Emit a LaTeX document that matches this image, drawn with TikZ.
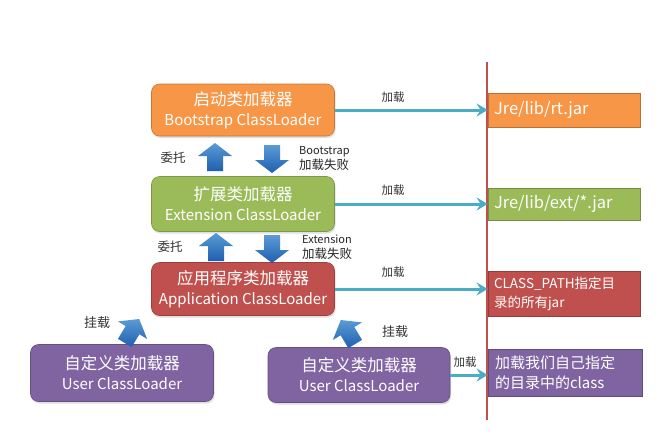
\documentclass[tikz,border=0pt]{standalone}
\usepackage{fontspec}
\setmainfont{Noto Sans CJK SC}
\usetikzlibrary{arrows.meta,shadows}
\definecolor{cOrange}{HTML}{F79646}
\definecolor{cGreen}{HTML}{9BBB59}
\definecolor{cRed}{HTML}{C0504D}
\definecolor{cPurple}{HTML}{8064A2}
\definecolor{cTeal}{HTML}{4BACC6}
\definecolor{cBlueT}{HTML}{5B9BD5}
\definecolor{cBlueB}{HTML}{1F5FAF}
\begin{document}
\begin{tikzpicture}[x=1pt,y=-1pt,
  loader/.style={rounded corners=8pt,draw=#1!80!black,line width=0.6pt,fill=#1,text=white,
    align=center,inner sep=0pt,font=\fontsize{15}{20}\selectfont,
    drop shadow={opacity=0.25,shadow xshift=1pt,shadow yshift=-2pt}},
  target/.style={draw=#1!75!black,line width=0.8pt,fill=#1,text=white,inner sep=0pt,
    align=left,text width=140pt},
  conn/.style={cTeal,line width=3pt,-{Stealth[length=11pt,width=13pt,inset=4pt]}},
  lbl/.style={text=black!80,font=\fontsize{11.5}{13}\selectfont,inner sep=0pt},
  smalllbl/.style={text=black!85,font=\fontsize{11}{15}\selectfont,inner sep=0pt,align=left,anchor=west},
  blk/.pic={\shade[top color=cBlueT,bottom color=cBlueB]
    (0,-14) -- (17,-1) -- (8,-1) -- (8,14) -- (-8,14) -- (-8,-1) -- (-17,-1) -- cycle;}
]
\useasboundingbox (0,0) rectangle (672,440);
\fill[white] (0,0) rectangle (672,440);

% vertical line
\coordinate (ltop) at (487,62);
\coordinate (lbot) at (487,420);
\draw[cRed,line width=1.4pt] (ltop) -- (lbot);

% loaders
\node[loader=cOrange,minimum width=183pt,minimum height=52pt] (boot) at (243,110)
  {\fontsize{16.5}{20}\selectfont 启动类加载器\\Bootstrap ClassLoader};
\node[loader=cGreen,minimum width=183pt,minimum height=55pt] (ext) at (243,204)
  {\fontsize{16.5}{20}\selectfont 扩展类加载器\\Extension ClassLoader};
\node[loader=cRed,minimum width=183pt,minimum height=53pt] (app) at (243,289)
  {\fontsize{16.5}{20}\selectfont 应用程序类加载器\\Application ClassLoader};
\node[loader=cPurple,minimum width=183pt,minimum height=57pt] (user1) at (122,373)
  {\fontsize{16.5}{20}\selectfont 自定义类加载器\\User ClassLoader};
\node[loader=cPurple,minimum width=182pt,minimum height=55pt] (user2) at (359,375)
  {\fontsize{16.5}{20}\selectfont 自定义类加载器\\User ClassLoader};

% targets
\node[target=cOrange,minimum width=152pt,minimum height=34pt,font=\fontsize{16.5}{19}\selectfont] (rt) at (564,110) {Jre/lib/rt.jar};
\node[target=cGreen,minimum width=152pt,minimum height=32pt,font=\fontsize{16.5}{19}\selectfont] (extjar) at (564,204) {Jre/lib/ext/*.jar};
\node[target=cRed,minimum width=152pt,minimum height=45pt,font=\fontsize{13.5}{19}\selectfont] (cp) at (564,294) {CLASS\_PATH指定目\\录的所有jar};
\node[target=cPurple,minimum width=154pt,minimum height=47pt,font=\fontsize{15}{20}\selectfont] (own) at (565,373) {加载我们自己指定\\的目录中的class};

% connectors
\draw[conn] (boot.east) -- (boot.east -| rt.west);
\draw[conn] (ext.east) -- (ext.east -| extjar.west);
\draw[conn] (app.east) -- (app.east -| cp.west);
\draw[conn] (user2.east) -- (user2.east -| own.west);
\node[lbl] (l1) at (393,97) {加载};
\node[lbl] (l2) at (393,190) {加载};
\node[lbl] (l3) at (393,272) {加载};
\node[lbl] (l4) at (465,362) {加载};

% block arrows
\pic at (215,157) {blk};
\pic[rotate=180] at (272,159) {blk};
\pic at (216,247) {blk};
\pic[rotate=180] at (272,249) {blk};
\pic[rotate=-31] at (132,331) {blk};
\pic[rotate=31] at (348,332) {blk};

\node[lbl,font=\fontsize{12.5}{14}\selectfont] (w1) at (173,158) {委托};
\node[lbl,font=\fontsize{12.5}{14}\selectfont] (w2) at (170,247) {委托};
\node[smalllbl] (f1) at (299,158) {Bootstrap\\{\fontsize{12.5}{15}\selectfont 加载失败}};
\node[smalllbl] (f2) at (302,247) {Extension\\{\fontsize{12.5}{15}\selectfont 加载失败}};
\node[lbl,font=\fontsize{13}{14}\selectfont] (g1) at (97,323) {挂载};
\node[lbl,font=\fontsize{13}{14}\selectfont] (g2) at (395,332) {挂载};
\end{tikzpicture}
\end{document}
